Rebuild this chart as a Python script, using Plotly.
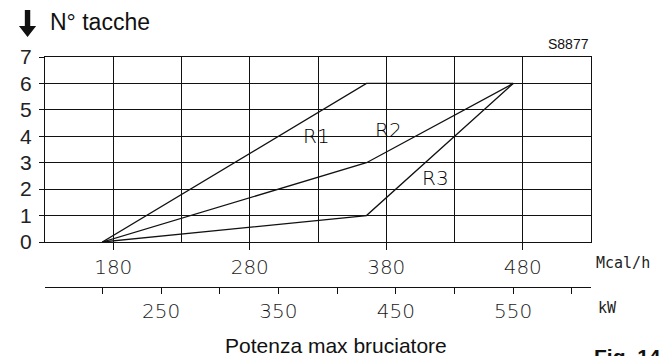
import plotly.graph_objects as go

# ---- data ----
kw_points = [200, 425, 550]          # burner max power, kW
r1_notches = [0, 6, 6]
r2_notches = [0, 3, 6]
r3_notches = [0, 1, 6]
series_names = ["R1", "R2", "R3"]
mcal_ticks = [180, 280, 380, 480]
mcal_minor = [230, 330, 430]
kw_ticks = [200, 250, 300, 350, 400, 450, 500, 550, 600]
kw_labels = ["", "250", "", "350", "", "450", "", "550", ""]
y_ticks = [0, 1, 2, 3, 4, 5, 6, 7]
MCAL_PER_KW = 0.86
mcal_range = [130, 530]
kw_range = [mcal_range[0] / MCAL_PER_KW, mcal_range[1] / MCAL_PER_KW]

# ---- geometry helpers (page pixel -> paper); page body has an 8px margin ----
OFF = 8
W, H = 670 - OFF, 356 - OFF
L, T = 36 - OFF, 57 - OFF
R = W - (591 - OFF)
B = H - (287 - OFF)
PW, PH = W - L - R, H - T - B


def px(x):
    return (x - OFF - L) / PW


def py(y):
    return (H - B - (y - OFF)) / PH


cad_font = dict(family="DejaVu Sans", size=20, color="#1a1a1a", weight=200)
ink = "#111"

fig = go.Figure()
# empty trace so that the Mcal/h axis subplot exists
fig.add_trace(go.Scatter(x=[None], y=[None], xaxis="x", yaxis="y", mode="lines",
                         showlegend=False, hoverinfo="skip"))
for name, ys in zip(series_names, [r1_notches, r2_notches, r3_notches]):
    fig.add_trace(go.Scatter(x=kw_points, y=ys, mode="lines", name=name,
                             xaxis="x2", yaxis="y",
                             line=dict(color=ink, width=1.3), showlegend=False,
                             hoverinfo="skip"))

fig.update_layout(
    width=W, height=H,
    margin=dict(l=L, r=R, t=T, b=B, pad=0),
    paper_bgcolor="white", plot_bgcolor="white",
    xaxis=dict(range=mcal_range, tickvals=mcal_ticks, ticks="outside", ticklen=7,
               tickcolor=ink, showline=True, linecolor=ink, linewidth=1, mirror=True,
               showgrid=True, gridcolor=ink, gridwidth=1, zeroline=False,
               minor=dict(tickvals=mcal_minor, showgrid=True, gridcolor=ink, gridwidth=1, ticks=""),
               tickfont=cad_font, anchor="y", fixedrange=True),
    yaxis=dict(domain=[py(242), 1], range=[0, 7], tickvals=y_ticks, ticks="outside",
               ticklen=5, tickcolor=ink, showline=True, linecolor=ink, mirror=True,
               showgrid=True, gridcolor=ink, gridwidth=1, zeroline=False,
               ticklabelstandoff=3,
               tickfont=dict(family="Liberation Sans, Arial", size=21, color="#222")),
    xaxis2=dict(overlaying="x", anchor="free", position=0, side="bottom",
                range=kw_range, tickvals=kw_ticks, ticktext=kw_labels,
                ticks="outside", ticklen=6, tickcolor=ink, showline=True, linecolor=ink,
                showgrid=False, zeroline=False, tickfont=cad_font),
)

ann = []
ann.append(dict(x=px(39), y=py(22), xref="paper", yref="paper", text="N° tacche",
                showarrow=False, xanchor="left", yanchor="middle",
                font=dict(family="Liberation Sans, Arial", size=23, color="#111")))
ann.append(dict(x=px(568), y=py(44), xref="paper", yref="paper", text="S8877",
                showarrow=False, xanchor="center", yanchor="middle",
                font=dict(family="Liberation Sans, Arial", size=14, color="#111")))
ann.append(dict(x=px(332), y=py(345), xref="paper", yref="paper", text="Potenza max bruciatore",
                showarrow=False, xanchor="center", yanchor="middle",
                font=dict(family="Liberation Sans, Arial", size=21, color="#111")))
ann.append(dict(x=px(592), y=py(343), xref="paper", yref="paper", text="<b>Fig. 14</b>",
                showarrow=False, xanchor="left", yanchor="top",
                font=dict(family="Liberation Sans, Arial", size=21, color="#111")))
ann.append(dict(x=px(594), y=py(263), xref="paper", yref="paper", text="Mcal/h",
                showarrow=False, xanchor="left", yanchor="middle",
                font=dict(family="DejaVu Sans Mono", size=15, color="#222")))
ann.append(dict(x=px(596), y=py(308), xref="paper", yref="paper", text="kW",
                showarrow=False, xanchor="left", yanchor="middle",
                font=dict(family="DejaVu Sans Mono", size=15, color="#222")))
lab_font = dict(family="DejaVu Sans", size=20, color="#000", weight=200)
ann.append(dict(x=px(311.5), y=py(135.5), xref="paper", yref="paper", text="R1",
                showarrow=False, xanchor="center", yanchor="middle", font=lab_font))
ann.append(dict(x=px(385), y=py(130), xref="paper", yref="paper", text="R2",
                showarrow=False, xanchor="center", yanchor="middle", font=lab_font))
ann.append(dict(x=px(433), y=py(178), xref="paper", yref="paper", text="R3",
                showarrow=False, xanchor="center", yanchor="middle", font=lab_font))
fig.update_layout(annotations=ann)

# white gaps in the grid behind the R1 / R2 labels (below the curves)
for x0, x1, y0, y1 in [(297, 330, 121, 148), (366, 405, 120, 149)]:
    fig.add_shape(type="rect", xref="paper", yref="paper",
                  x0=px(x0), x1=px(x1), y0=py(y1), y1=py(y0),
                  fillcolor="white", line=dict(width=0), layer="between")

# down arrow next to the y title
arrow_path = (f"M {px(15.5)},{py(10)} L {px(21)},{py(10)} L {px(21)},{py(26)} "
              f"L {px(27)},{py(26)} L {px(18.25)},{py(37)} L {px(9.5)},{py(26)} "
              f"L {px(15.5)},{py(26)} Z")
fig.add_shape(type="path", path=arrow_path, xref="paper", yref="paper",
              fillcolor="#111", line=dict(color="#111", width=0))

fig.write_html("out.html")
